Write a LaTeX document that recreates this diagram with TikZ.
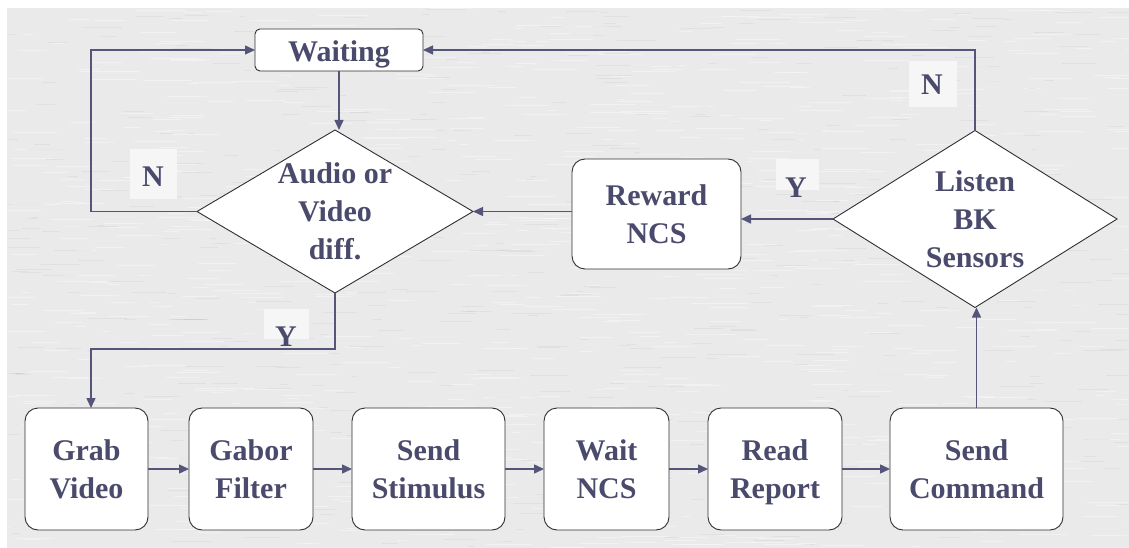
\documentclass[tikz,border=0pt]{standalone}
\usepackage{fontspec}
\setmainfont{Liberation Serif}
\usetikzlibrary{shapes.geometric,arrows.meta}

\definecolor{paper}{HTML}{EAEAEA}
\definecolor{labelbg}{HTML}{F6F6F6}
\definecolor{ink}{HTML}{4A4A6C}
\definecolor{wire}{HTML}{55557A}
\definecolor{edge}{HTML}{2F2F35}

\tikzset{
  flowtext/.style={font=\fontsize{30}{38}\bfseries\selectfont, text=ink, align=center},
  procbox/.style={draw=edge, line width=0.9pt, fill=white, rounded corners=13pt,
    inner sep=0pt, outer sep=0pt, text depth=0pt, flowtext},
  decision/.style={draw=edge, line width=0.9pt, fill=white, diamond, inner sep=0pt,
    outer sep=0pt},
  lblbox/.style={fill=labelbg, inner sep=0pt, outer sep=0pt},
  lbltext/.style={flowtext, anchor=base, inner sep=0pt},
  conn/.style={draw=wire, line width=1.4pt, -{Triangle[length=10pt,width=9pt]}},
}

\begin{document}
\begin{tikzpicture}[x=1pt,y=-1pt]
  % page and textured paper
  \fill[white] (0,0) rectangle (1129,548);
  \fill[paper] (7,8) rectangle (1129,548);
  \begin{scope}
    \clip (7,8) rectangle (1129,548);
    \pgfmathsetseed{7}
    \foreach \i in {1,...,900}{
      \pgfmathsetmacro{\px}{rnd*1129}
      \pgfmathsetmacro{\py}{8+rnd*540}
      \pgfmathsetmacro{\pl}{6+rnd*45}
      \draw[white, opacity=0.35, line width=0.9pt] (\px,\py) -- ++(\pl,0);
    }
    \foreach \i in {1,...,500}{
      \pgfmathsetmacro{\px}{rnd*1129}
      \pgfmathsetmacro{\py}{8+rnd*540}
      \pgfmathsetmacro{\pl}{5+rnd*35}
      \draw[black, opacity=0.04, line width=0.8pt] (\px,\py) -- ++(\pl,0);
    }
  \end{scope}
  \useasboundingbox (0,0) rectangle (1129,548);

  % yes / no label backgrounds
  \node[lblbox, minimum width=47pt, minimum height=50pt] (nlbox) at (153.5,174) {};
  \node[lblbox, minimum width=48pt, minimum height=46pt] (ntbox) at (933,84) {};
  \node[lblbox, minimum width=43pt, minimum height=31pt] (yrbox) at (797.5,174.5) {};
  \node[lblbox, minimum width=45pt, minimum height=30pt] (ybbox) at (286.5,324) {};

  % top state
  \node[procbox, rounded corners=5pt, minimum width=168pt, minimum height=42pt,
        text height=24pt, text depth=0pt] (waiting) at (339,50) {Waiting};

  % decisions
  \node[decision, minimum width=276pt, minimum height=163pt] (audio) at (335,211.5) {};
  \node[flowtext] (audiot) at (audio.center) {Audio or\\Video\\diff.};
  \node[decision, minimum width=284pt, minimum height=177pt] (listen) at (975,219) {};
  \node[flowtext] (listent) at (listen.center) {Listen\\BK\\Sensors};

  % reward
  \node[procbox, minimum width=169pt, minimum height=110pt] (reward) at (656.5,214) {Reward\\NCS};

  % processing chain
  \node[procbox, minimum width=123pt, minimum height=122pt] (grab)  at (86.5,469)  {Grab\\Video};
  \node[procbox, minimum width=124pt, minimum height=122pt] (gabor) at (251,469)   {Gabor\\Filter};
  \node[procbox, minimum width=153pt, minimum height=122pt] (stim)  at (428.5,469) {Send\\Stimulus};
  \node[procbox, minimum width=125pt, minimum height=122pt] (waitn) at (606.5,469) {Wait\\NCS};
  \node[procbox, minimum width=134pt, minimum height=122pt] (read)  at (775,469)   {Read\\Report};
  \node[procbox, minimum width=173pt, minimum height=122pt] (cmd)   at (976.5,469) {Send\\Command};

  % bend points
  \coordinate (lx) at (91,0);
  \coordinate (ybend) at (91,349);

  % connectors
  \draw[conn] (waiting.south) -- (waiting.south |- audio.north);
  \draw[conn] (audio.west) -| (lx |- waiting.west) -- (waiting.west);
  \draw[conn] (audio.south) |- (ybend) -- (ybend |- grab.north);
  \draw[conn] (grab.east) -- (gabor.west);
  \draw[conn] (gabor.east) -- (stim.west);
  \draw[conn] (stim.east) -- (waitn.west);
  \draw[conn] (waitn.east) -- (read.west);
  \draw[conn] (read.east) -- (cmd.west);
  \draw[conn] (cmd.north) -- (cmd.north |- listen.south);
  \draw[conn] (listen.north) |- (waiting.east);
  \draw[conn] (listen.west) -- (listen.west -| reward.east);
  \draw[conn] (reward.west |- audio.east) -- (audio.east);

  % yes / no labels
  \node[lbltext] (nl) at (153,187) {N};
  \node[lbltext] (nt) at (932,95) {N};
  \node[lbltext] (yr) at (796,197) {Y};
  \node[lbltext] (yb) at (286,346) {Y};
\end{tikzpicture}
\end{document}
